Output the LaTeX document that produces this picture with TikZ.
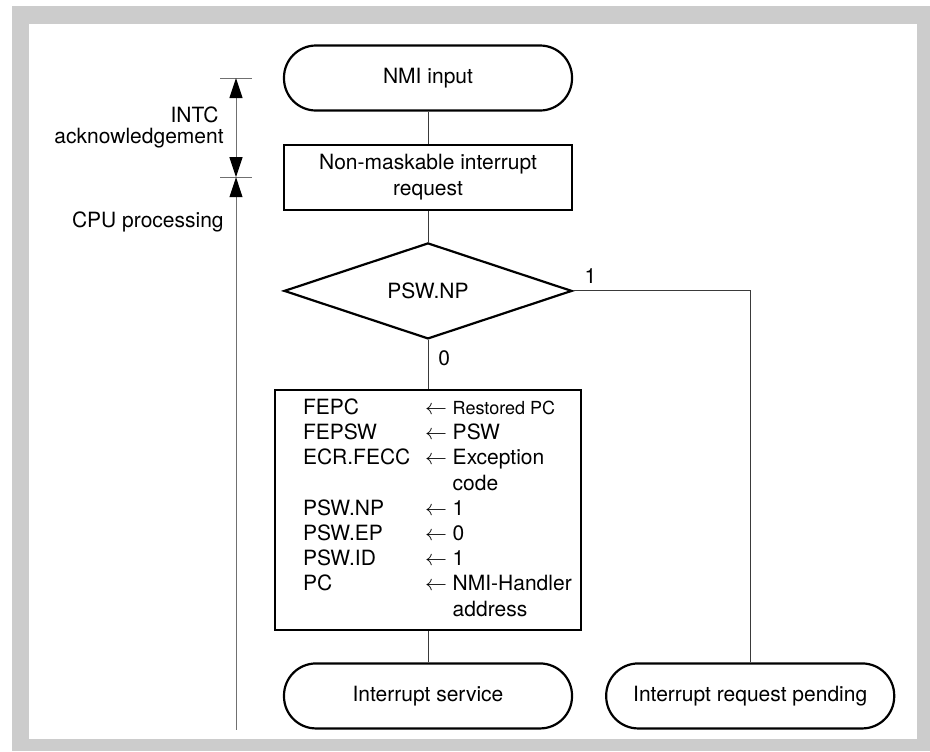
\documentclass[tikz,border=0pt]{standalone}
\usepackage{fontspec}
\setmainfont{TeX Gyre Heros}
\usetikzlibrary{positioning,arrows.meta,shapes.geometric}
\definecolor{frm}{HTML}{CCCCCC}
\definecolor{lnk}{HTML}{3A3A3A}
\definecolor{dim}{HTML}{707070}
\newcommand{\nfont}{\fontsize{10.5}{12.6}\selectfont}
\newcommand{\sfont}{\fontsize{9}{12.6}\selectfont}
\tikzset{
  term/.style={rectangle, rounded corners=16pt, draw, line width=1.1pt,
               minimum width=144pt, minimum height=32.5pt, font=\nfont},
  proc/.style={rectangle, draw, line width=1.1pt, align=center,
               minimum width=144pt, minimum height=32.5pt, font=\nfont},
  test/.style={diamond, draw, line width=1.1pt, aspect=3, inner sep=0pt,
               minimum width=144pt, minimum height=48pt, font=\nfont},
  regbox/.style={rectangle, draw, line width=1.1pt, inner xsep=14pt,
                 minimum width=153pt, minimum height=119.5pt, font=\nfont},
  lbl/.style={inner sep=0pt, font=\nfont},
  link/.style={draw=lnk, line width=0.5pt},
  span/.style={draw=dim, line width=0.5pt,
               >={Triangle[length=10pt, width=6.5pt, color=black]}}
}

\begin{document}
\begin{tikzpicture}[x=0.5pt, y=-0.5pt, node distance=16pt and 16pt]
\useasboundingbox (0,0) rectangle (930,751);
% frame
\fill[frm] (12,6) rectangle (930,751);
\fill[white] (29,24) rectangle (917,739);

% flow
\node[term] (nmi) at (428,78) {NMI input};
\node[proc, below=of nmi] (req) {Non-maskable interrupt\\request};
\node[test, below=15.5pt of req] (np) {PSW.NP};
\node[regbox, below=24.5pt of np] (regs) {\makebox[125pt][l]{%
  \begin{tabular}{@{}p{61pt}@{}l@{}}
  FEPC     & $\leftarrow$ {\sfont Restored PC}\\
  FEPSW    & $\leftarrow$ PSW\\
  ECR.FECC & $\leftarrow$ Exception\\
           & \phantom{$\leftarrow$ }code\\
  PSW.NP   & $\leftarrow$ 1\\
  PSW.EP   & $\leftarrow$ 0\\
  PSW.ID   & $\leftarrow$ 1\\
  PC       & $\leftarrow$ NMI-Handler\\
           & \phantom{$\leftarrow$ }address
  \end{tabular}}};
\node[term, below=15.5pt of regs] (svc) {Interrupt service};
\node[term, right=of svc] (pend) {Interrupt request pending};

\draw[link] (nmi) -- (req);
\draw[link] (req) -- (np);
\draw[link] (np) -- (regs);
\draw[link] (regs) -- (svc);
\draw[link] (np.east) -| (pend.north);
\node[lbl, above right=3.5pt and 5.5pt of np.east] (one) {1};
\node[lbl, below right=5pt and 5pt of np.south] (zero) {0};

% left span marks
\coordinate (t1) at (236,0 |- nmi);
\coordinate (t2) at (236,0 |- req);
\coordinate (t3) at (236,0 |- svc.south);
\draw[span] ([xshift=-8pt]t1) -- ([xshift=8pt]t1);
\draw[span] ([xshift=-8pt]t2) -- ([xshift=8pt]t2);
\draw[span, <->] (t1) -- (t2);
\draw[span, <-] (t2) -- (t3);
\node[lbl, anchor=east] (intc) at (219,115) {INTC};
\node[lbl, anchor=east] (ack) at (224,138) {acknowledgement};
\node[lbl, anchor=east] (cpu) at (224,222) {CPU processing};
\end{tikzpicture}
\end{document}
